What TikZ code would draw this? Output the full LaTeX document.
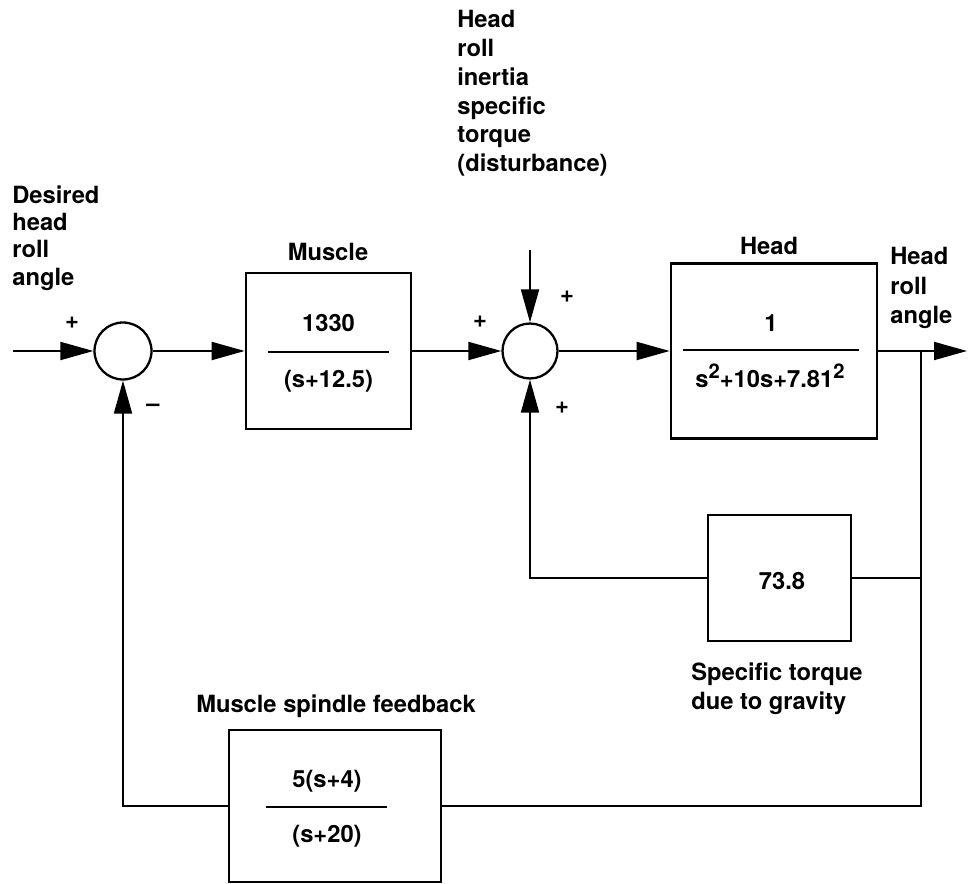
\documentclass[tikz,border=0pt]{standalone}
\usepackage{fontspec}
\setmainfont{TeX Gyre Heros}
\usetikzlibrary{arrows.meta, positioning, calc}
\newcommand{\sqr}{\raisebox{0.42em}{\fontsize{11.5}{11.5}\selectfont 2}}

\begin{document}
\begin{tikzpicture}[
			x=0.02cm, y=-0.02cm,
			block/.style={rectangle, draw, line width=1.5pt, inner sep=0pt},
			sumjn/.style={circle, draw, line width=1.3pt, minimum size=1.14cm, inner sep=0pt},
			lbl/.style={font=\bfseries\fontsize{13.5}{16.4}\selectfont, inner sep=0pt},
			multi/.style={lbl, align=left, anchor=north west},
			arr/.style={-{Triangle[length=6.6mm, width=3.6mm]}, line width=1.1pt},
			wire/.style={line width=1.1pt},
			fracline/.style={line width=1.3pt}
			]
			\useasboundingbox (0,0) rectangle (969,884);
			
			% Bloki i sumatory
			\node[sumjn] (sum1) at (123,351) {};
			\node[block, minimum width=3.3cm, minimum height=3.12cm] (muscle) at (328.5,351) {};
			\node[sumjn, minimum size=1.1cm] (sum2) at (530,351) {};
			\node[block, minimum width=4.12cm, minimum height=3.5cm] (head) at (774,351) {};
			\node[block, minimum width=2.86cm, minimum height=2.52cm] (gain) at (779.5,578) {};
			\node[block, minimum width=4.24cm, minimum height=3.04cm] (spindle) at (335,806) {};
			
			% Transmitancje
			\node[lbl, anchor=base] (musnum) at (328.5,332) {1330};
			\node[lbl, anchor=base] (musden) at (328.5,388) {(s+12.5)};
			\draw[fracline] ($(muscle.center)+(-61,1)$) -- ++(121,0);
			\node[lbl, anchor=base] (headnum) at (771,332) {1};
			\node[lbl, anchor=base] (headden) at (770,388) {s\sqr+10s+7.81\sqr};
			\draw[fracline] ($(head.center)+(-91,-1)$) -- ++(176,0);
			\node[lbl, anchor=base] (gainval) at (782,589) {73.8};
			\node[lbl, anchor=base] (spinnum) at (327,787) {5(s+4)};
			\node[lbl, anchor=base] (spinden) at (327,842) {(s+20)};
			\draw[fracline] ($(spindle.center)+(-69,1)$) -- ++(121,0);
			
			% Opisy
			\node[lbl, anchor=base] (muslbl) at (328,261) {Muscle};
			\node[lbl, anchor=base] (headlbl) at (769,255) {Head};
			\node[lbl, anchor=base] (spinlbl) at (336,712) {Muscle spindle feedback};
			\node[multi, font=\bfseries\fontsize{13.5}{15.6}\selectfont] (desired) at (12,185) {Desired\\head\\roll\\angle};
			\node[multi] (dist) at (457,10) {Head\\roll\\inertia\\specific\\torque\\(disturbance)};
			\node[multi, font=\bfseries\fontsize{13.5}{16.8}\selectfont] (outlbl) at (890,247) {Head\\roll\\angle};
			\node[multi, font=\bfseries\fontsize{13.5}{16.8}\selectfont] (gravlbl) at (691,662) {Specific torque\\due to gravity};
			
			% Znaki
			\node[lbl] (s1a) at (72,323) {+};
			\node[lbl] (s1b) at (153,408) {--};
			\node[lbl] (s2a) at (480,322) {+};
			\node[lbl] (s2b) at (567,297) {+};
			\node[lbl] (s2c) at (562,408) {+};
			
			\coordinate (in) at (13,351);
			\coordinate (dtop) at (530,250);
			\coordinate (br) at (921,351);
			\coordinate (out) at (967,351);
			
			% Tor glowny
			\draw[arr] (in) -- (sum1);
			\draw[arr] (sum1) -- (muscle);
			\draw[arr] (muscle) -- (sum2);
			\draw[arr] (dtop) -- (sum2);
			\draw[arr] (sum2) -- (head);
			\draw[arr] (head) -- (out);
			% Sprzezenia
			\draw[wire] (br) |- (spindle.east);
			\draw[wire] (gain.east) -- (gain.east -| br);
			\draw[arr] (gain.west) -| (sum2.south);
			\draw[arr] (spindle.west) -| (sum1.south);
		\end{tikzpicture}
\end{document}
